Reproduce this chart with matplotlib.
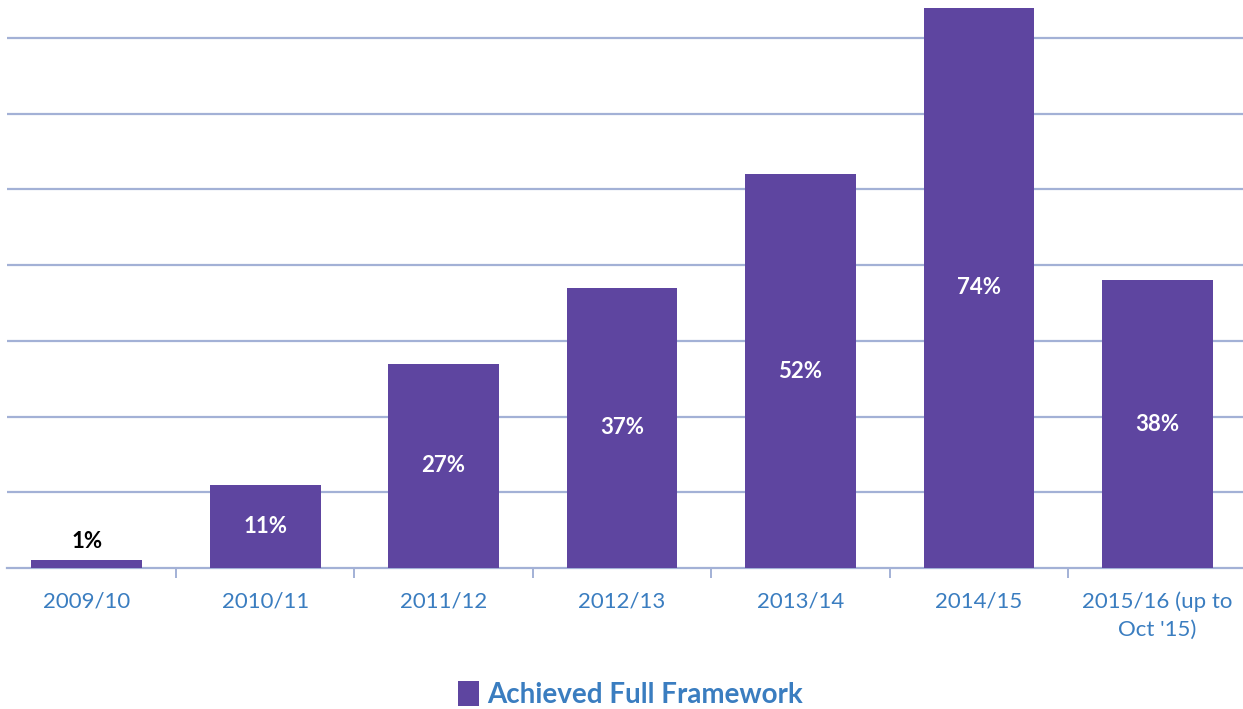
import matplotlib.pyplot as plt
from matplotlib.patches import Patch

# Data
categories = ['2009/10', '2010/11', '2011/12', '2012/13', '2013/14',
              '2014/15', "2015/16 (up to\nOct '15)"]
achieved = [1, 11, 27, 37, 52, 74, 38]
bar_labels = ['1%', '11%', '27%', '37%', '52%', '74%', '38%']
series_name = 'Achieved Full Framework'

bar_color = '#5E45A0'
grid_color = '#A3B1D6'
text_blue = '#3A7DC0'

plt.rcParams['font.family'] = ['Lato', 'DejaVu Sans']

fig = plt.figure(figsize=(12.43, 7.09), dpi=100)
ax = fig.add_axes([7 / 1243, 141 / 709, 1236 / 1243, 568 / 709])

x = list(range(len(categories)))
bars = ax.bar(x, achieved, width=0.62, color=bar_color, zorder=3)

ax.set_xlim(-0.447, 6.48)
ax.set_ylim(0, 75)

# grid
ax.set_yticks(range(10, 80, 10))
ax.yaxis.grid(True, color=grid_color, linewidth=1.6, zorder=0)
ax.tick_params(axis='y', left=False, labelleft=False)

for s in ['top', 'right', 'left']:
    ax.spines[s].set_visible(False)
ax.spines['bottom'].set_color(grid_color)
ax.spines['bottom'].set_linewidth(1.6)

# category labels centred, ticks at boundaries
ax.set_xticks(x)
ax.set_xticklabels(categories, color=text_blue, fontsize=16, linespacing=1.45)
ax.tick_params(axis='x', length=0, pad=17)
ax.set_xticks([i + 0.5 for i in range(len(categories) - 1)], minor=True)
ax.tick_params(axis='x', which='minor', length=7, width=1.4, color=grid_color)

# value labels
for xi, v, lab in zip(x, achieved, bar_labels):
    if v < 5:
        ax.text(xi, v + 2.5, lab, ha='center', va='center', fontsize=16,
                fontweight='bold', color='black', zorder=4)
    else:
        ax.text(xi, v / 2, lab, ha='center', va='center', fontsize=16,
                fontweight='bold', color='white', zorder=4)

handle = Patch(facecolor=bar_color, edgecolor='none')
fig.legend([handle], [series_name], loc='center', bbox_to_anchor=(0.507, 0.02),
           frameon=False, handlelength=0.75, handleheight=1.0, handletextpad=0.3,
           prop={'size': 20, 'weight': 'bold'}, labelcolor=text_blue)

fig.savefig('out.png', dpi=100)
